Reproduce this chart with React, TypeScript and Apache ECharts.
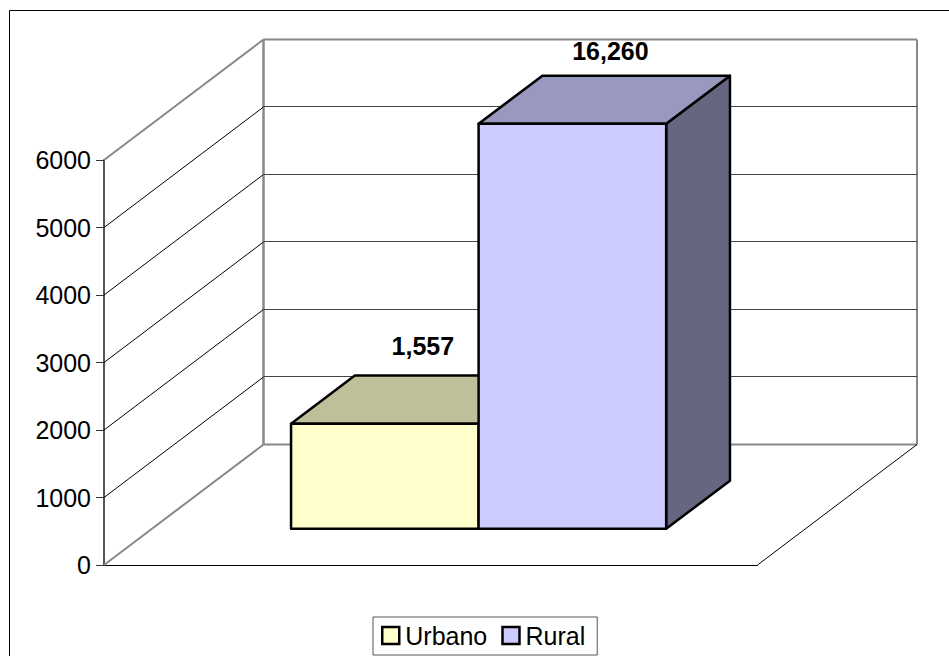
import React, { useEffect, useRef } from "react";
import * as echarts from "echarts";

const categories = ["Urbano", "Rural"];
const values = [1557, 16260];
const valueLabels = ["1,557", "16,260"];
const yTicks = [0, 1000, 2000, 3000, 4000, 5000, 6000];
const yMax = 6000;

const frontFill = ["#FFFFCC", "#CCCCFF"];
const topFill = ["#BFBF99", "#9999BF"];
const sideFill = ["#808066", "#666680"];

const DEPTH_X = 159.5;
const DEPTH_Y = 120.5;
const BAR_NEAR = 0.3;
const BAR_FAR = 0.7;
const BAR_RATIO = 0.287;
const LABEL_LIFT = [30, 25];
const LABEL_SHIFT = 38;
const FONT = '"Liberation Sans", Arial, sans-serif';

function wallItem(params: any, api: any) {
  const v = api.value(1);
  const cs = params.coordSys;
  const y = api.coord([0, v])[1];
  const x0 = cs.x;
  const x1 = cs.x + cs.width;
  const edge = v === 0 || v === yMax;
  const gray = { stroke: "#888888", lineWidth: 2 };
  const diag = edge ? gray : { stroke: "#000000", lineWidth: 1 };
  const back = edge ? gray : { stroke: "#444444", lineWidth: 1 };
  const backY = edge ? y - DEPTH_Y : Math.ceil(y - DEPTH_Y) - 0.5;
  const children: any[] = [
    {
      type: "line",
      shape: { x1: x0, y1: y, x2: x0 + DEPTH_X, y2: y - DEPTH_Y },
      style: diag,
    },
    {
      type: "line",
      shape: { x1: x0 + DEPTH_X, y1: backY, x2: x1 + DEPTH_X, y2: backY },
      style: back,
    },
  ];
  if (v === 0) {
    const top = api.coord([0, yMax])[1];
    children.push(
      {
        type: "line",
        shape: { x1: x0 + DEPTH_X, y1: y - DEPTH_Y, x2: x0 + DEPTH_X, y2: top - DEPTH_Y },
        style: { stroke: "#888888", lineWidth: 2.5 },
      },
      {
        type: "line",
        shape: { x1: x1 + DEPTH_X, y1: y - DEPTH_Y, x2: x1 + DEPTH_X, y2: top - DEPTH_Y },
        style: gray,
      },
      {
        type: "line",
        shape: { x1: x1, y1: y, x2: x1 + DEPTH_X, y2: y - DEPTH_Y },
        style: { stroke: "#000000", lineWidth: 1 },
      }
    );
  }
  return { type: "group", children };
}

function barItem(index: number) {
  return (params: any, api: any) => {
    const raw = api.value(1);
    const band = api.size([1, 0])[0];
    const w = band * BAR_RATIO;
    const center = api.coord([0, 0])[0];
    const base = api.coord([0, 0])[1];
    const top = api.coord([0, Math.min(raw, yMax)])[1];
    const xl = center + (index - 1) * w + DEPTH_X * BAR_NEAR;
    const xr = xl + w;
    const yb = base - DEPTH_Y * BAR_NEAR;
    const yt = top - DEPTH_Y * BAR_NEAR;
    const dx = DEPTH_X * (BAR_FAR - BAR_NEAR);
    const dy = DEPTH_Y * (BAR_FAR - BAR_NEAR);
    const line = { stroke: "#000000", lineWidth: 2.5, lineJoin: "round" };
    return {
      type: "group",
      children: [
        {
          type: "polygon",
          shape: { points: [[xr, yb], [xr + dx, yb - dy], [xr + dx, yt - dy], [xr, yt]] },
          style: { fill: sideFill[index], ...line },
        },
        {
          type: "polygon",
          shape: { points: [[xl, yt], [xl + dx, yt - dy], [xr + dx, yt - dy], [xr, yt]] },
          style: { fill: topFill[index], ...line },
        },
        {
          type: "rect",
          shape: { x: xl, y: yt, width: w, height: yb - yt },
          style: { fill: frontFill[index], ...line },
        },
        {
          type: "text",
          style: {
            text: valueLabels[index],
            x: xl + w / 2 + LABEL_SHIFT,
            y: yt - dy - LABEL_LIFT[index],
            align: "center",
            verticalAlign: "middle",
            fill: "#000000",
            font: `bold 25px ${FONT}`,
          },
        },
      ],
    };
  };
}

export default function App() {
  const ref = useRef<HTMLDivElement>(null);
  useEffect(() => {
    const chart = echarts.init(ref.current!, null, { renderer: "svg" });
    chart.setOption({
      animation: false,
      backgroundColor: "#ffffff",
      textStyle: { fontFamily: FONT },
      grid: { left: 104, top: 160, width: 653.5, height: 405, containLabel: false },
      xAxis: {
        type: "category",
        data: [""],
        axisLine: { show: true, lineStyle: { color: "#000000", width: 1 } },
        axisTick: { show: false },
        axisLabel: { show: false },
      },
      yAxis: {
        type: "value",
        min: 0,
        max: yMax,
        interval: 1000,
        splitLine: { show: false },
        axisLine: { show: true, lineStyle: { color: "#555555", width: 2 } },
        axisTick: { show: true, length: 8, lineStyle: { color: "#333333", width: 1 } },
        axisLabel: {
          color: "#000000",
          fontSize: 25,
          margin: 13,
          fontFamily: FONT,
          formatter: (v: number) => String(v),
        },
      },
      legend: {
        left: 373,
        top: 617,
        padding: [6, 12, 7, 8],
        itemGap: 14,
        itemWidth: 17,
        itemHeight: 17,
        icon: "rect",
        selectedMode: false,
        borderColor: "#555555",
        borderWidth: 1,
        backgroundColor: "#ffffff",
        data: categories,
        textStyle: { color: "#000000", fontSize: 25, fontFamily: FONT, padding: [0, 0, 0, 1] },
        itemStyle: { borderColor: "#000000", borderWidth: 2.5 },
      },
      graphic: [
        {
          type: "rect",
          silent: true,
          z: -1,
          shape: { x: 9.5, y: 10.5, width: 960, height: 680 },
          style: { fill: "transparent", stroke: "#000000", lineWidth: 1 },
        },
      ],
      series: [
        {
          type: "custom",
          name: "walls",
          silent: true,
          clip: false,
          z: 1,
          data: yTicks.map((t) => [0, t]),
          encode: { x: 0, y: 1 },
          renderItem: wallItem,
        },
        ...categories.map((name, i) => ({
          type: "custom",
          name,
          silent: true,
          clip: false,
          z: 2 + i,
          data: [[0, values[i]]],
          encode: { x: 0, y: 1 },
          itemStyle: { color: frontFill[i], borderColor: "#000000", borderWidth: 2.5 },
          renderItem: barItem(i),
        })),
      ],
    });
    return () => chart.dispose();
  }, []);
  return (
    <div
      ref={ref}
      style={{ position: "absolute", left: 0, top: 0, width: 949, height: 656, overflow: "hidden" }}
    />
  );
}
